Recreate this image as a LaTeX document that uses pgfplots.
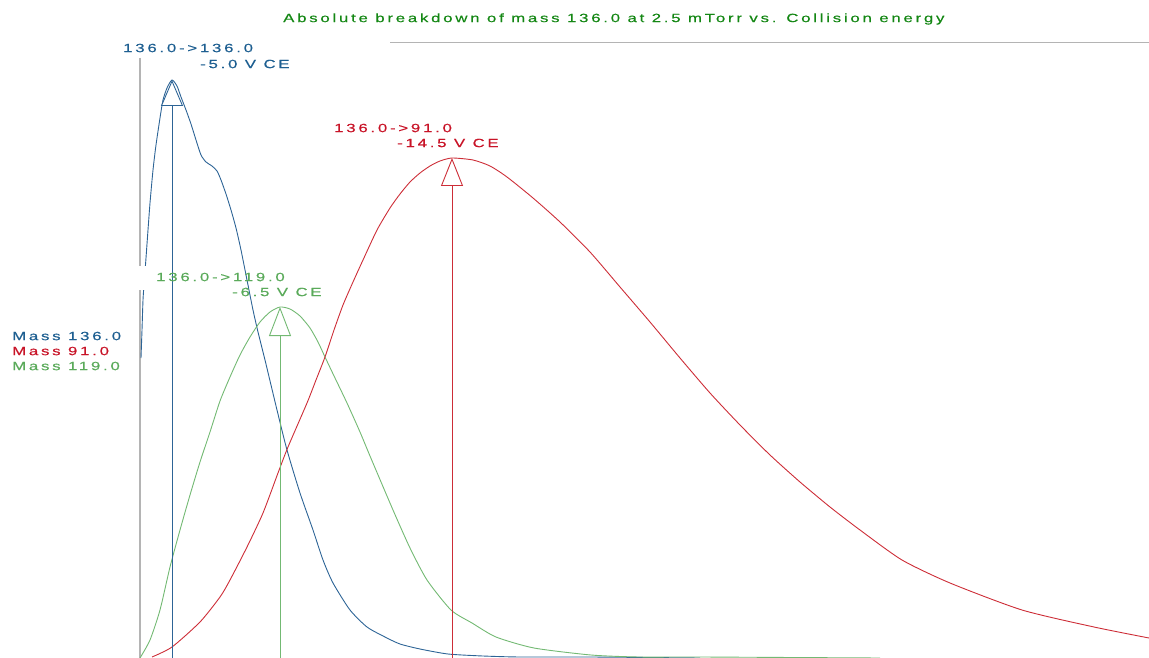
\documentclass[border=0pt]{standalone}
\usepackage{pgfplots}
\pgfplotsset{compat=1.18}
\usepackage{fontspec}
\usetikzlibrary{arrows.meta}
\newfontfamily\chartfont{Liberation Sans}[FakeStretch=1.4,LetterSpace=23,FakeBold=0.4]

\definecolor{cblue}{RGB}{45,100,150}
\definecolor{tblue}{RGB}{30,95,145}
\definecolor{cred}{RGB}{205,45,55}
\definecolor{tred}{RGB}{200,20,40}
\definecolor{cgreen}{RGB}{115,185,115}
\definecolor{tgreen}{RGB}{90,170,90}
\definecolor{ttitle}{RGB}{20,135,20}
\definecolor{axgray}{RGB}{180,180,180}

\tikzset{lbl/.style={anchor=west, inner sep=0pt, font=\chartfont\fontsize{12}{14}\selectfont}}

\begin{document}
\begin{tikzpicture}
\begin{axis}[
  scale only axis, width=1149pt, height=658pt,
  xmin=0, xmax=1149, ymin=0, ymax=658, y dir=reverse,
  hide axis, clip=false,
]
% frame
\addplot[axgray, line width=1.2pt] coordinates {(140,58) (140,658)};
\addplot[axgray, line width=1pt] coordinates {(390,43) (1149,43)};

% Mass 136.0 (precursor)
\addplot[cblue, line width=0.9pt, smooth, tension=0.4] coordinates {
 (141,358) (142,330) (143,300) (144,285) (146,258) (148,230) (150,203) (153,170)
 (156,145) (160,118) (163,100) (167,88) (172,80) (177,86) (181,97) (186,110)
 (191,124) (196,140) (201,155) (206,162) (212,166) (217,171) (221,180) (226,194)
 (231,210) (236,228) (241,250) (247,280) (253,310) (258,332) (265,360) (277,410)
 (287,450) (300,493) (313,530) (323,560) (333,583) (350,610) (367,627) (385,637)
 (400,644) (420,649) (448,654) (483,656) (520,657) (591,657) (700,658)};
% white patch behind the 119.0 label
\fill[white] (axis cs:134,266) rectangle (axis cs:153,290);

% Mass 119.0
\addplot[cgreen, line width=0.9pt, smooth, tension=0.4] coordinates {
 (140,658) (150,640) (160,610) (170,567) (180,530) (190,495) (200,462) (210,432)
 (220,401) (230,377) (240,355) (250,337) (260,322) (270,312) (280,307) (290,309)
 (300,316) (310,328) (318,342) (325,357) (335,378) (347,403) (360,432) (370,456)
 (393,510) (410,548) (427,580) (451,610) (472,623) (496,637) (534,648) (591,655)
 (639,657) (701,657) (880,658)};

% Mass 91.0
\addplot[cred, line width=0.9pt, smooth, tension=0.4] coordinates {
 (152,657) (172,647) (200,622) (220,597) (230,580) (247,547) (263,513) (278,473)
 (288,447) (307,403) (316,380) (325,357) (334,330) (343,305) (353,282) (363,260)
 (377,230) (390,208) (400,194) (410,182) (420,173) (430,166) (440,161) (452,158)
 (473,160) (490,166) (507,177) (533,198) (560,222) (590,252) (620,287) (650,322)
 (680,358) (710,393) (740,425) (770,455) (800,482) (830,507) (860,530) (902,560)
 (950,583) (1022,610) (1094,627) (1149,638)};

% optimum collision energy markers
\addplot[cblue, line width=0.9pt, -{Triangle[length=26pt,width=22pt,fill=white]}]
  coordinates {(172,658) (172,80)};
\addplot[cgreen, line width=0.9pt, -{Triangle[length=29pt,width=22pt,fill=white]}]
  coordinates {(280,658) (280,307)};
\addplot[cred, line width=0.9pt, -{Triangle[length=28pt,width=22pt,fill=white]}]
  coordinates {(452,658) (452,158)};

% texts
\node[lbl, text=ttitle] at (axis cs:283,19) {Absolute breakdown of mass 136.0 at 2.5 mTorr vs. Collision energy};
\node[lbl, text=tblue] at (axis cs:123,48) {136.0->136.0};
\node[lbl, text=tblue] at (axis cs:200,64) {-5.0 V CE};
\node[lbl, text=tred] at (axis cs:334,128) {136.0->91.0};
\node[lbl, text=tred] at (axis cs:397,143) {-14.5 V CE};
\node[lbl, text=tgreen] at (axis cs:156,277) {136.0->119.0};
\node[lbl, text=tgreen] at (axis cs:232,292) {-6.5 V CE};
\node[lbl, text=tblue] at (axis cs:12,336) {Mass 136.0};
\node[lbl, text=tred] at (axis cs:12,351) {Mass 91.0};
\node[lbl, text=tgreen] at (axis cs:12,366) {Mass 119.0};
\end{axis}
\pgfresetboundingbox
\path (0,0) rectangle (1149pt,658pt);
\end{tikzpicture}
\end{document}
